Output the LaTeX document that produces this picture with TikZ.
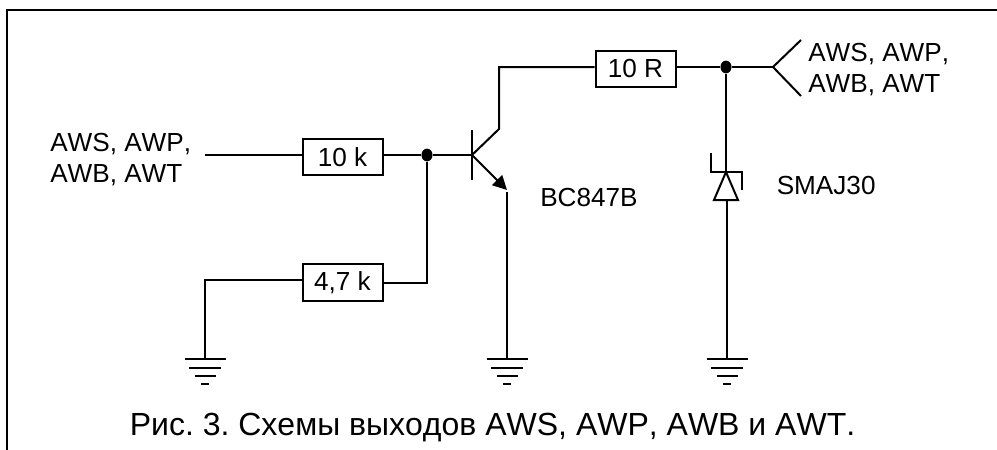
\documentclass[tikz,border=0pt]{standalone}
\usepackage{fontspec}
\setmainfont[Kerning=Off]{Liberation Sans}
\usetikzlibrary{arrows.meta, calc, shapes.geometric}
\tikzset{
    wire/.style={line width=1.5pt},
    resistor/.style={draw=black, line width=1.5pt, fill=white, minimum width=60pt, minimum height=27.5pt, inner sep=0pt, font=\fontsize{19.6}{19.6}\selectfont},
    dot/.style={ellipse, fill=black, inner sep=0pt, minimum width=8.3pt, minimum height=9.6pt},
    label/.style={inner sep=0pt, anchor=west, align=left, font=\fontsize{19.6}{23.2}\selectfont},
}
\newcommand{\earth}[1]{
    \draw[wire] ($(#1)+(-20.5,0)$) -- ($(#1)+(20.5,0)$);
    \draw[wire] ($(#1)+(-16,8.5)$) -- ($(#1)+(16,8.5)$);
    \draw[wire] ($(#1)+(-10.5,16.5)$) -- ($(#1)+(10.5,16.5)$);
    \draw[wire] ($(#1)+(-4,24.5)$) -- ($(#1)+(4,24.5)$);
}
\begin{document}
\frenchspacing
\begin{tikzpicture}[x=0.75pt, y=-0.75pt]
        \useasboundingbox (0,0) rectangle (997,450);

        % frame
        \draw[line width=1.5pt] (7,450) -- (7,10) -- (997,10);

        % resistors
        \node[resistor] (rten) at (635.5,69) {10 R};
        \node[resistor] (rbase) at (342.5,157) {10 k};
        \node[resistor] (rpull) at (342.5,282.5) {4,7 k};

        % junctions and wire ends
        \node[dot] (jout) at (726,67) {};
        \node[dot] (jbase) at (427,155) {};
        \coordinate (in) at (205,155);
        \coordinate (base) at (472,155);
        \coordinate (coll) at (499,129);
        \coordinate (collup) at (499,67);
        \coordinate (emit) at (507,190);
        \coordinate (emitlow) at (507,192);
        \coordinate (fork) at (773,67);
        \coordinate (forka) at (801,40);
        \coordinate (forkb) at (801,96);
        \coordinate (pullcorner) at (205,280);
        \coordinate (gndl) at (205,359);
        \coordinate (gndm) at (507,359);
        \coordinate (gndr) at (727,359);
        \coordinate (zapex) at (726,172);
        \coordinate (zbase) at (727,200);

        % input side
        \draw[wire] (in) -- (rbase.west |- in);
        \draw[wire] (rbase.east |- in) -- (jbase) -- (base);
        \draw[wire] (jbase) |- (rpull.east);
        \draw[wire] (rpull.west |- pullcorner) -- (pullcorner) -- (gndl);

        % transistor
        \draw[wire] (472,130) -- (472,180);
        \draw[wire] (base) -- (coll) -- (collup) -- (rten.west |- collup);
        \draw[wire, -{Triangle[length=10.6pt, width=10.6pt]}] (base) -- (emit);
        \draw[wire] (emitlow) -- (gndm);

        % output side
        \draw[wire] (rten.east |- jout) -- (jout) -- (fork);
        \draw[wire] (forka) -- (fork) -- (forkb);
        \draw[wire] (jout) -- (zapex);

        % zener
        \draw[wire] (711,153) -- (711,172) -- (742,172) -- (742,190);
        \draw[wire] (zapex) -- (714,200) -- (738,200) -- cycle;
        \draw[wire] (zbase) -- (gndr);

        % grounds
        \earth{gndl}
        \earth{gndm}
        \earth{gndr}

        % labels
        \node[label] (lblin) at (50,160) {AWS, AWP,\\AWB, AWT};
        \node[label] (lblout) at (808,69.5) {AWS, AWP,\\AWB, AWT};
        \node[label] (lbltr) at (540,198) {BC847B};
        \node[label] (lblz) at (776.5,186) {SMAJ30};
        \node[inner sep=0pt, anchor=base, font=\fontsize{24}{28}\selectfont] (caption) at (492.5,435) {Рис. 3. Схемы выходов AWS, AWP, AWB и AWT.};
    \end{tikzpicture}
\end{document}
